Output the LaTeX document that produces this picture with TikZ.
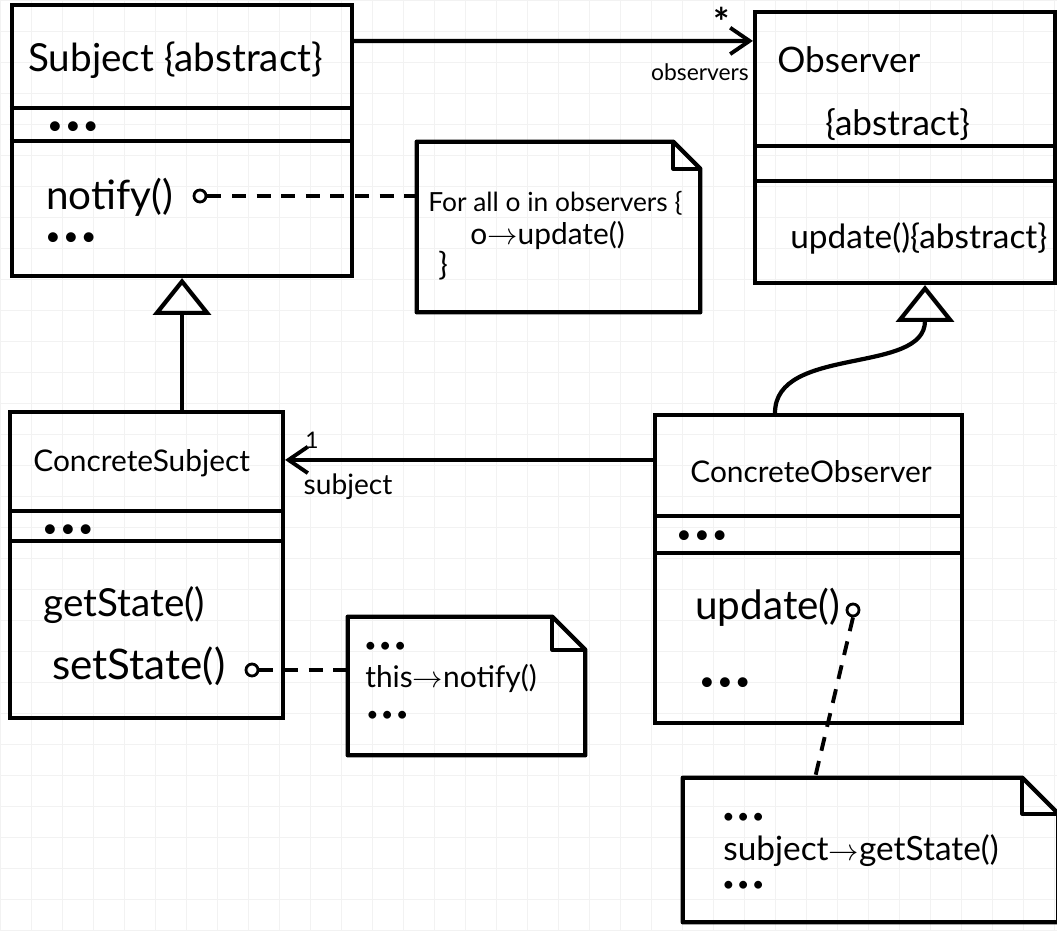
\documentclass[tikz,border=0pt]{standalone}
\usepackage{fontspec}
\setmainfont{Lato}
\usetikzlibrary{arrows.meta,calc}
\newcommand{\mydots}{\textbullet\kern1.5pt\textbullet\kern1.5pt\textbullet}
\begin{document}
\begin{tikzpicture}[x=0.02cm,y=-0.02cm,
  gridline/.style={draw=black!5,line width=0.5pt},
  umlbox/.style={draw=black,line width=2.4pt,inner sep=0pt},
  notebox/.style={draw=none,inner sep=0pt},
  noteline/.style={draw=black,line width=2.4pt,line join=round},
  sepline/.style={draw=black,line width=2.4pt},
  txt/.style={anchor=west,inner sep=0pt,font=\fontsize{20}{22}\selectfont},
  meth/.style={txt,font=\fontsize{23}{25}\selectfont},
  cname/.style={txt,font=\fontsize{17}{19}\selectfont},
  notetxt/.style={txt,font=\fontsize{15}{17}\selectfont},
  dots/.style={txt,font=\fontsize{15}{17}\selectfont},
  ndots/.style={txt,font=\fontsize{12}{14}\selectfont},
  lbl/.style={inner sep=0pt,font=\fontsize{13}{15}\selectfont},
  marker/.style={circle,draw=black,line width=1.6pt,minimum size=0.24cm,inner sep=0pt},
  assoc/.style={draw=black,line width=2.4pt,-{Straight Barb[length=11pt,width=15pt,line width=2.2pt]}},
  gen/.style={draw=black,line width=2.4pt,-{Triangle[open,length=21pt,width=33pt,line width=2.4pt]}},
  dep/.style={draw=black,line width=2.2pt,dash pattern=on 8pt off 6pt}]
\useasboundingbox (0,0) rectangle (1057,930);
\clip (0,0) rectangle (1057,930);
\fill[white] (0,0) rectangle (1057,930);
\foreach \gx in {0,31,...,1057} \draw[gridline] (\gx,0) -- (\gx,930);
\foreach \gy in {0,31,...,930} \draw[gridline] (0,\gy) -- (1057,\gy);

% ---- Subject
\node[umlbox,minimum width=6.8cm,minimum height=5.42cm] (subj) at (182,140.5) {};
\draw[sepline] ([yshift=-2.1cm]subj.north west) -- ([yshift=-2.1cm]subj.north east);
\draw[sepline] ([yshift=-2.76cm]subj.north west) -- ([yshift=-2.76cm]subj.north east);
\node[txt,font=\fontsize{22}{24}\selectfont] (subjname) at (28,60) {Subject \{abstract\}};
\node[dots] (subjattr) at (47,128) {\mydots};
\node[meth] (subjnotify) at (46,197) {notify()};
\node[dots] (subjmore) at (45,239) {\mydots};
\node[marker] (m1) at (200,196) {};

% ---- Observer
\node[umlbox,minimum width=6.0cm,minimum height=5.42cm] (obs) at (905,147.5) {};
\draw[sepline] ([yshift=-2.72cm]obs.north west) -- ([yshift=-2.72cm]obs.north east);
\draw[sepline] ([yshift=-3.42cm]obs.north west) -- ([yshift=-3.42cm]obs.north east);
\node[txt] (obsname) at (777,60) {Observer};
\node[txt] (obsabs) at (825,125) {\{abstract\}};
\node[txt,font=\fontsize{19}{21}\selectfont] (obsupd) at (790,238) {update()\{abstract\}};

% ---- ConcreteSubject
\node[umlbox,minimum width=5.46cm,minimum height=6.12cm] (csub) at (146.5,565) {};
\draw[sepline] ([yshift=-2.02cm]csub.north west) -- ([yshift=-2.02cm]csub.north east);
\draw[sepline] ([yshift=-2.62cm]csub.north west) -- ([yshift=-2.62cm]csub.north east);
\node[cname] (csubname) at (33,463) {ConcreteSubject};
\node[dots] (csubattr) at (42,531) {\mydots};
\node[meth,font=\fontsize{22}{24}\selectfont] (csubget) at (43,605) {getState()};
\node[meth,font=\fontsize{24}{26}\selectfont] (csubset) at (52,666) {setState()};
\node[marker] (m2) at (252,670) {};

% ---- ConcreteObserver
\node[umlbox,minimum width=6.14cm,minimum height=6.16cm] (cobs) at (808.5,569) {};
\draw[sepline] ([yshift=-2.06cm]cobs.north west) -- ([yshift=-2.06cm]cobs.north east);
\draw[sepline] ([yshift=-2.8cm]cobs.north west) -- ([yshift=-2.8cm]cobs.north east);
\node[cname] (cobsname) at (690,472) {ConcreteObserver};
\node[dots] (cobsattr) at (676,537) {\mydots};
\node[meth] (cobsupd) at (695,607) {update()};
\node[dots] (cobsmore) at (699,684) {\mydots};
\node[marker] (m3) at (853,610) {};

% ---- Notes
\node[notebox,minimum width=5.66cm,minimum height=3.4cm] (n1) at (558.5,227) {};
\draw[noteline] (n1.north west) -- ([xshift=-0.54cm]n1.north east) -- ([yshift=-0.54cm]n1.north east) -- (n1.south east) -- (n1.south west) -- cycle;
\draw[noteline] ([xshift=-0.54cm]n1.north east) |- ([yshift=-0.54cm]n1.north east);
\node[notetxt] (n1a) at (428,203) {For all o in observers \{};
\node[notetxt,font=\fontsize{17}{19}\selectfont] (n1b) at (470,235) {o$\rightarrow$update()};
\node[notetxt,font=\fontsize{18}{20}\selectfont] (n1c) at (438,266) {\}};

\node[notebox,minimum width=4.74cm,minimum height=2.76cm] (n2) at (466.5,686) {};
\draw[noteline] (n2.north west) -- ([xshift=-0.66cm]n2.north east) -- ([yshift=-0.66cm]n2.north east) -- (n2.south east) -- (n2.south west) -- cycle;
\draw[noteline] ([xshift=-0.66cm]n2.north east) |- ([yshift=-0.66cm]n2.north east);
\node[ndots] (n2a) at (364,647) {\mydots};
\node[notetxt,font=\fontsize{17}{19}\selectfont] (n2b) at (365,678) {this$\rightarrow$notify()};
\node[ndots] (n2c) at (366,716) {\mydots};

\node[notebox,minimum width=7.5cm,minimum height=2.88cm] (n3) at (870.5,850) {};
\draw[noteline] (n3.north west) -- ([xshift=-0.72cm]n3.north east) -- ([yshift=-0.72cm]n3.north east) -- (n3.south east) -- (n3.south west) -- cycle;
\draw[noteline] ([xshift=-0.72cm]n3.north east) |- ([yshift=-0.72cm]n3.north east);
\node[ndots] (n3a) at (722,818) {\mydots};
\node[notetxt,font=\fontsize{19}{21}\selectfont] (n3b) at (723,851) {subject$\rightarrow$getState()};
\node[ndots] (n3c) at (722,886) {\mydots};

% ---- Connectors
\draw[assoc] ([yshift=-0.76cm]subj.north east) -- ([yshift=-0.62cm]obs.north west);
\node[lbl,font=\fontsize{22}{24}\selectfont\bfseries] (star) at (722,22) {*};
\node[lbl] (obslbl) at (700,72) {observers};

\coordinate (a2) at ($(cobs.north west)+(0,47)$);
\draw[assoc] (a2) -- (a2 -| csub.east);
\node[lbl] (one) at (312,440) {1};
\node[lbl,font=\fontsize{16}{18}\selectfont] (sublbl) at (348,487) {subject};

\draw[gen] (subj.south |- csub.north) -- (subj.south);
\draw[gen] ([xshift=-0.67cm]cobs.north) .. controls (775,345) and (925,375) .. ([xshift=0.4cm]obs.south);

\draw[dep] (m1.east) -- (m1.east -| n1.west);
\draw[dep] (m2.east) -- (m2.east -| n2.west);
\draw[dep] (m3.south) -- ([xshift=-1.11cm]n3.north);
\end{tikzpicture}
\end{document}
